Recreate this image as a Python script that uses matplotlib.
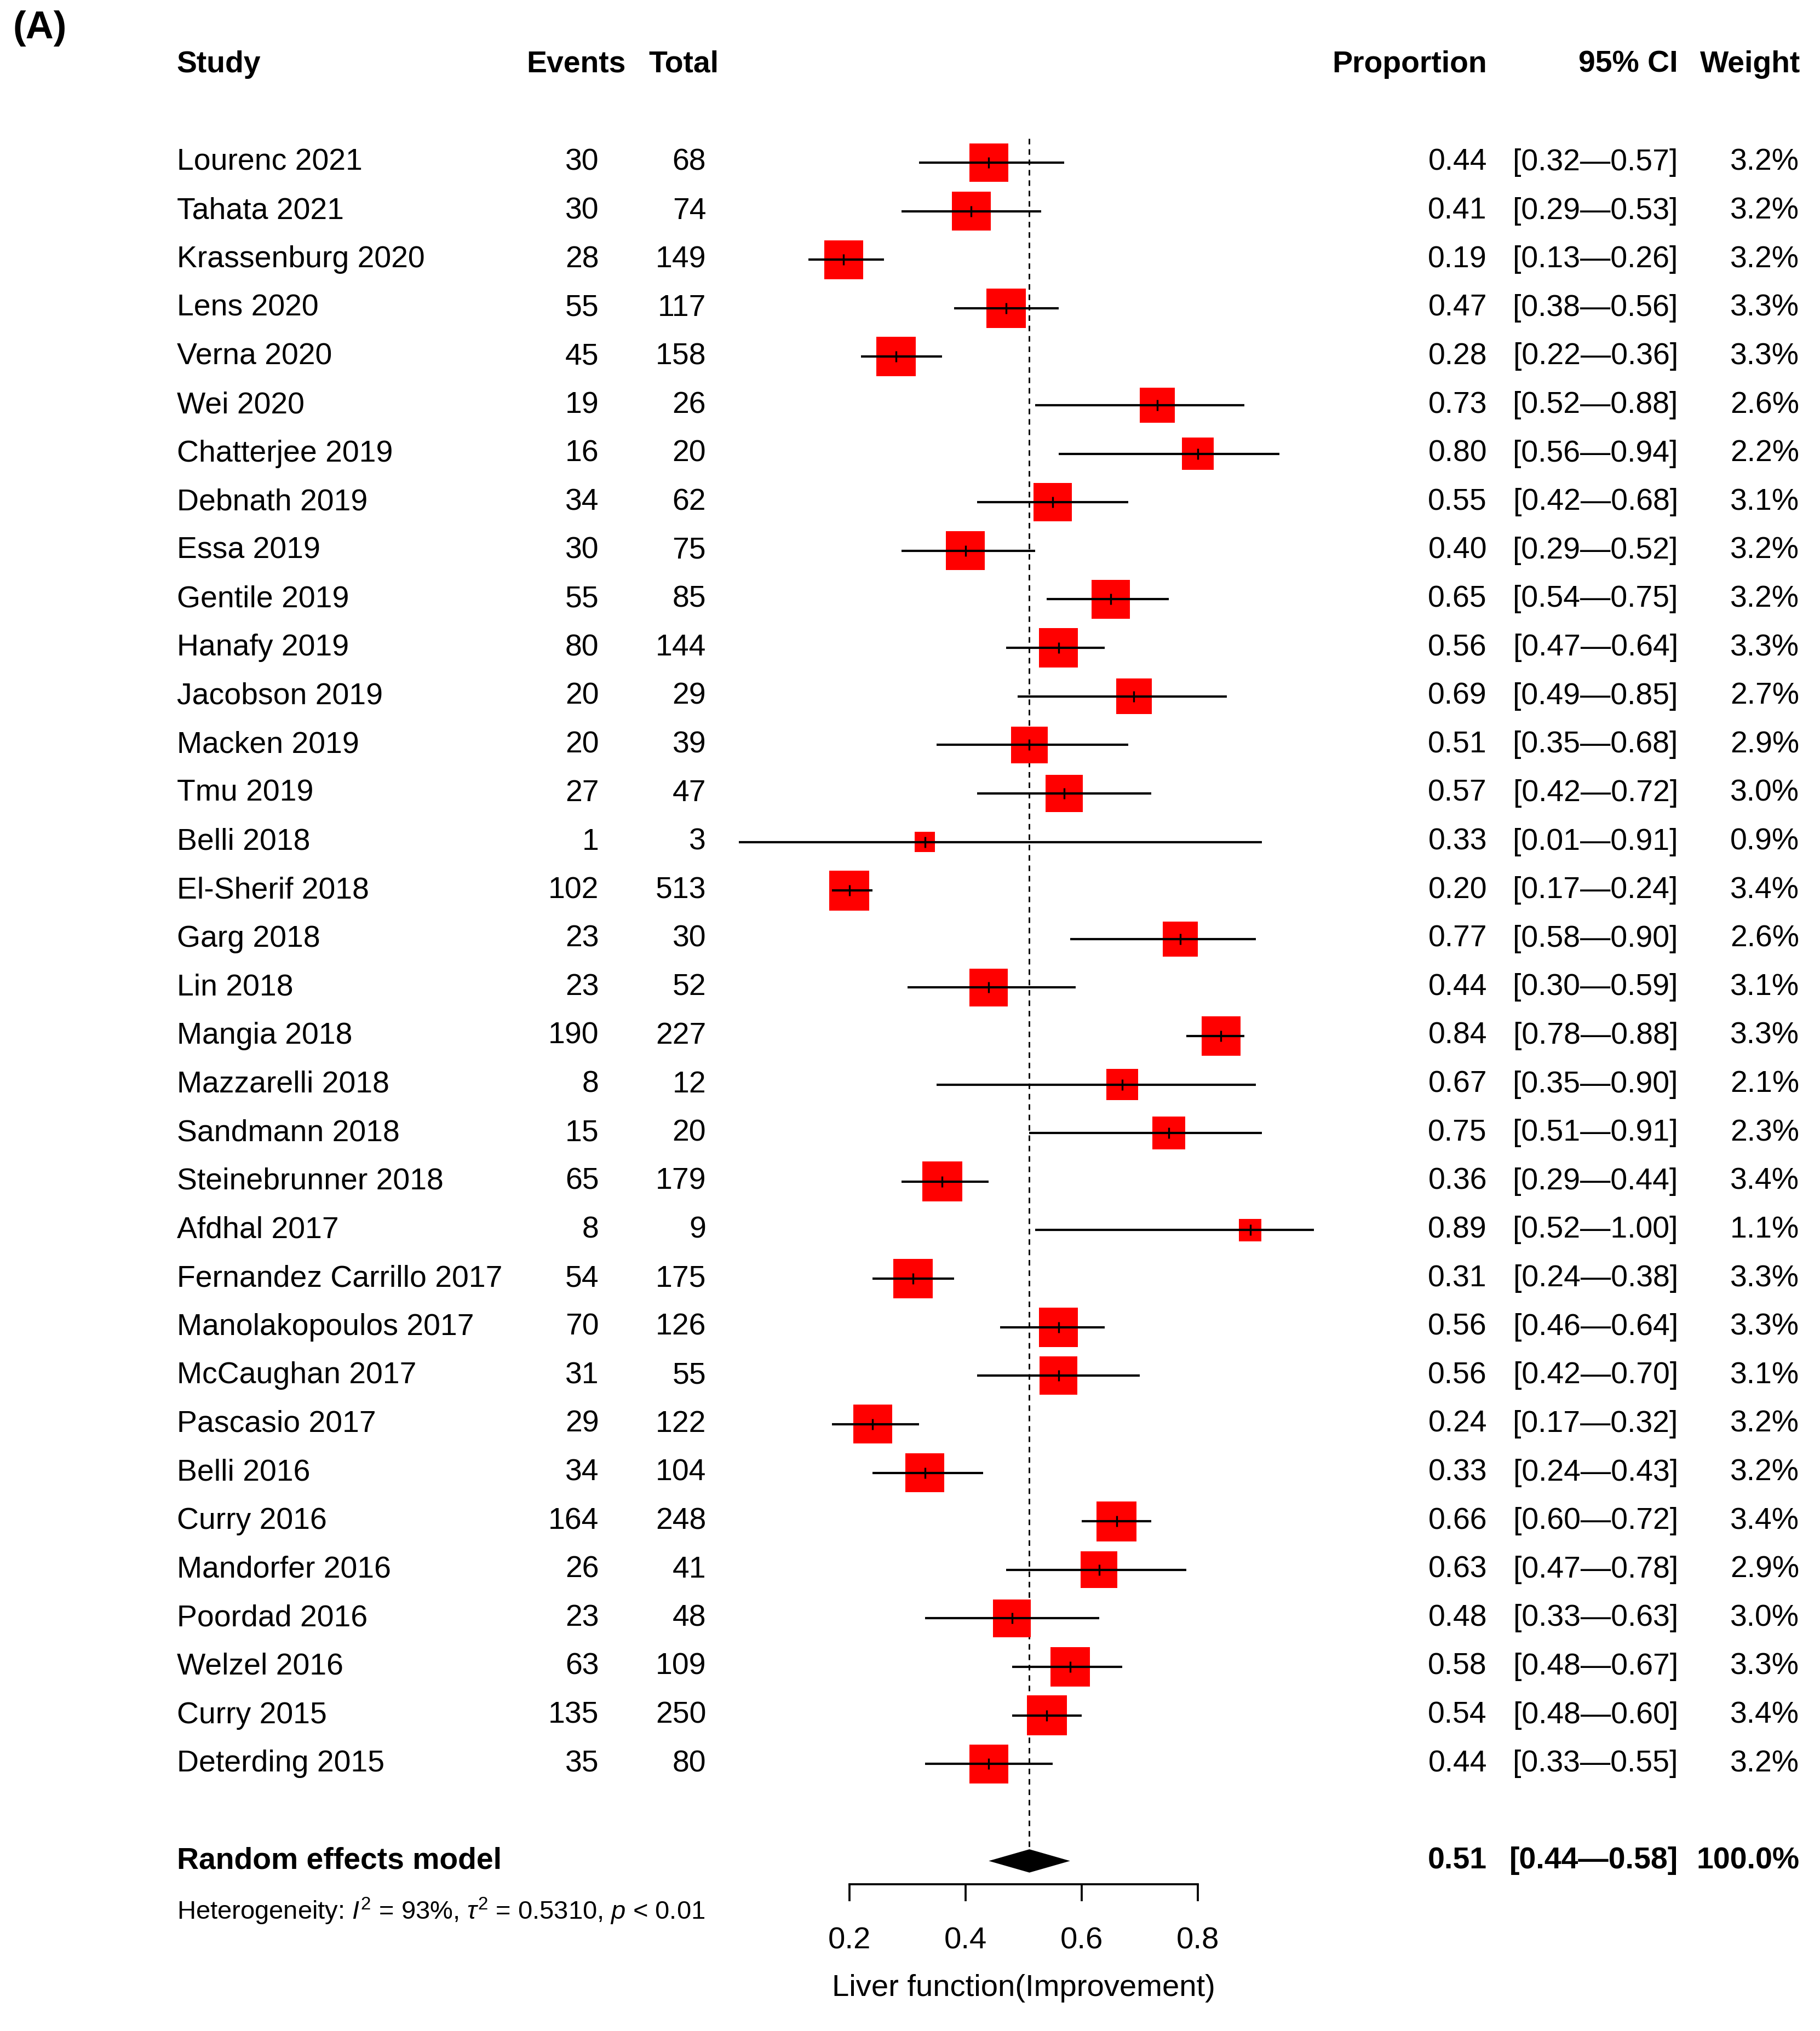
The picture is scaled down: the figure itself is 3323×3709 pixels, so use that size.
import numpy as np
import matplotlib.pyplot as plt
import matplotlib.transforms as mtransforms

plt.rcParams['font.family'] = ['Liberation Sans', 'DejaVu Sans']
plt.rcParams['mathtext.fontset'] = 'custom'
plt.rcParams['mathtext.rm'] = 'Liberation Sans'
plt.rcParams['mathtext.it'] = 'Liberation Sans:italic'

# data
studies = ['Lourenc 2021', 'Tahata 2021', 'Krassenburg 2020', 'Lens 2020', 'Verna 2020',
           'Wei 2020', 'Chatterjee 2019', 'Debnath 2019', 'Essa 2019', 'Gentile 2019',
           'Hanafy 2019', 'Jacobson 2019', 'Macken 2019', 'Tmu 2019', 'Belli 2018',
           'El-Sherif 2018', 'Garg 2018', 'Lin 2018', 'Mangia 2018', 'Mazzarelli 2018',
           'Sandmann 2018', 'Steinebrunner 2018', 'Afdhal 2017', 'Fernandez Carrillo 2017',
           'Manolakopoulos 2017', 'McCaughan 2017', 'Pascasio 2017', 'Belli 2016',
           'Curry 2016', 'Mandorfer 2016', 'Poordad 2016', 'Welzel 2016', 'Curry 2015',
           'Deterding 2015']
events = [30, 30, 28, 55, 45, 19, 16, 34, 30, 55, 80, 20, 20, 27, 1, 102, 23, 23, 190, 8,
          15, 65, 8, 54, 70, 31, 29, 34, 164, 26, 23, 63, 135, 35]
totals = [68, 74, 149, 117, 158, 26, 20, 62, 75, 85, 144, 29, 39, 47, 3, 513, 30, 52, 227, 12,
          20, 179, 9, 175, 126, 55, 122, 104, 248, 41, 48, 109, 250, 80]
props = [0.44, 0.41, 0.19, 0.47, 0.28, 0.73, 0.80, 0.55, 0.40, 0.65, 0.56, 0.69, 0.51, 0.57,
         0.33, 0.20, 0.77, 0.44, 0.84, 0.67, 0.75, 0.36, 0.89, 0.31, 0.56, 0.56, 0.24, 0.33,
         0.66, 0.63, 0.48, 0.58, 0.54, 0.44]
ci_low = [0.32, 0.29, 0.13, 0.38, 0.22, 0.52, 0.56, 0.42, 0.29, 0.54, 0.47, 0.49, 0.35, 0.42,
          0.01, 0.17, 0.58, 0.30, 0.78, 0.35, 0.51, 0.29, 0.52, 0.24, 0.46, 0.42, 0.17, 0.24,
          0.60, 0.47, 0.33, 0.48, 0.48, 0.33]
ci_high = [0.57, 0.53, 0.26, 0.56, 0.36, 0.88, 0.94, 0.68, 0.52, 0.75, 0.64, 0.85, 0.68, 0.72,
           0.91, 0.24, 0.90, 0.59, 0.88, 0.90, 0.91, 0.44, 1.00, 0.38, 0.64, 0.70, 0.32, 0.43,
           0.72, 0.78, 0.63, 0.67, 0.60, 0.55]
weights = [3.2, 3.2, 3.2, 3.3, 3.3, 2.6, 2.2, 3.1, 3.2, 3.2, 3.3, 2.7, 2.9, 3.0, 0.9, 3.4, 2.6,
           3.1, 3.3, 2.1, 2.3, 3.4, 1.1, 3.3, 3.3, 3.1, 3.2, 3.2, 3.4, 2.9, 3.0, 3.3, 3.4, 3.2]

pooled = 0.51
pooled_low = 0.44
pooled_high = 0.58
het_text = r'Heterogeneity: $I^2$ = 93%, $\tau^2$ = 0.5310, $p$ < 0.01'
x_ticks = [0.2, 0.4, 0.6, 0.8]
x_label = 'Liver function(Improvement)'

W, H, DPI = 3323, 3709, 300
fig = plt.figure(figsize=(W / DPI, H / DPI), dpi=DPI)

# layout measured on a 1410 px wide preview of the reference
PW = 1410.0
PH = PW * H / W
ROW0, ROWH = 126.0, 37.6


def fx(x):
    return x / PW


ax = fig.add_axes([fx(478), 0, fx(630), 1])
ax.set_xlim(-0.2, 1.2)
ax.set_ylim((PH - ROW0) / ROWH, -ROW0 / ROWH)

n = len(studies)
rows = np.arange(n)
pooled_row = n + 1

# boxes, area ~ weight
side_pt = 39.6 * np.sqrt(np.array(weights)) * 72 / DPI
ax.scatter(props, rows, s=side_pt ** 2, marker='s', color='#ff0000', linewidths=0, zorder=2)
ax.hlines(rows, ci_low, ci_high, color='black', lw=1.0, zorder=3)
ax.plot(props, rows, ls='none', marker='|', ms=5, mew=0.8, color='black', zorder=4)

# pooled estimate
ax.vlines(pooled, -0.5, pooled_row - 0.24, color='black', lw=0.7,
          linestyles=(0, (3.5, 3)), zorder=1)
dh = 0.24
ax.fill([pooled_low, pooled, pooled_high, pooled],
        [pooled_row, pooled_row - dh, pooled_row, pooled_row + dh],
        color='black', lw=0, zorder=3)

# x axis
for s in ['left', 'right', 'top']:
    ax.spines[s].set_visible(False)
ax.spines['bottom'].set_position(('data', pooled_row + 0.48))
ax.spines['bottom'].set_bounds(x_ticks[0], x_ticks[-1])
ax.spines['bottom'].set_linewidth(0.9)
ax.set_yticks([])
ax.set_xticks(x_ticks)
ax.set_xticklabels([f'{t:.1f}' for t in x_ticks])
ax.tick_params(axis='x', direction='out', length=7.5, width=0.9, pad=11, labelsize=13.5)
ax.text(0.5, pooled_row + 2.63, x_label, ha='center', va='center', fontsize=13.5)

# table text
tr = mtransforms.blended_transform_factory(fig.transFigure, ax.transData)
fs = 13.3
hdr = -2.02
ax.text(fx(137), hdr, 'Study', transform=tr, ha='left', va='center', fontsize=fs, weight='bold')
ax.text(fx(485), hdr, 'Events', transform=tr, ha='right', va='center', fontsize=fs, weight='bold')
ax.text(fx(557), hdr, 'Total', transform=tr, ha='right', va='center', fontsize=fs, weight='bold')
ax.text(fx(1152), hdr, 'Proportion', transform=tr, ha='right', va='center', fontsize=fs, weight='bold')
ax.text(fx(1300), hdr, '95% CI', transform=tr, ha='right', va='center', fontsize=fs, weight='bold')
ax.text(fx(1395), hdr, 'Weight', transform=tr, ha='right', va='center', fontsize=fs, weight='bold')

for i in range(n):
    ax.text(fx(137), i, studies[i], transform=tr, ha='left', va='center', fontsize=fs)
    ax.text(fx(464), i, str(events[i]), transform=tr, ha='right', va='center', fontsize=fs)
    ax.text(fx(547), i, str(totals[i]), transform=tr, ha='right', va='center', fontsize=fs)
    ax.text(fx(1152), i, f'{props[i]:.2f}', transform=tr, ha='right', va='center', fontsize=fs)
    ax.text(fx(1300), i, f'[{ci_low[i]:.2f}\u2014{ci_high[i]:.2f}]', transform=tr,
            ha='right', va='center', fontsize=fs)
    ax.text(fx(1394), i, f'{weights[i]:.1f}%', transform=tr, ha='right', va='center', fontsize=fs)

ax.text(fx(137), pooled_row, 'Random effects model', transform=tr, ha='left', va='center',
        fontsize=fs, weight='bold')
ax.text(fx(1152), pooled_row, f'{pooled:.2f}', transform=tr, ha='right', va='center',
        fontsize=fs, weight='bold')
ax.text(fx(1300), pooled_row, f'[{pooled_low:.2f}\u2014{pooled_high:.2f}]', transform=tr,
        ha='right', va='center', fontsize=fs, weight='bold')
ax.text(fx(1394), pooled_row, '100.0%', transform=tr, ha='right', va='center',
        fontsize=fs, weight='bold')
ax.text(fx(137), pooled_row + 1.04, het_text, transform=tr, ha='left', va='center', fontsize=11.3)

fig.text(fx(10), 1 - 22 / PH, '(A)', ha='left', va='center', fontsize=17, weight='bold')

fig.savefig('out.png', dpi=DPI)
